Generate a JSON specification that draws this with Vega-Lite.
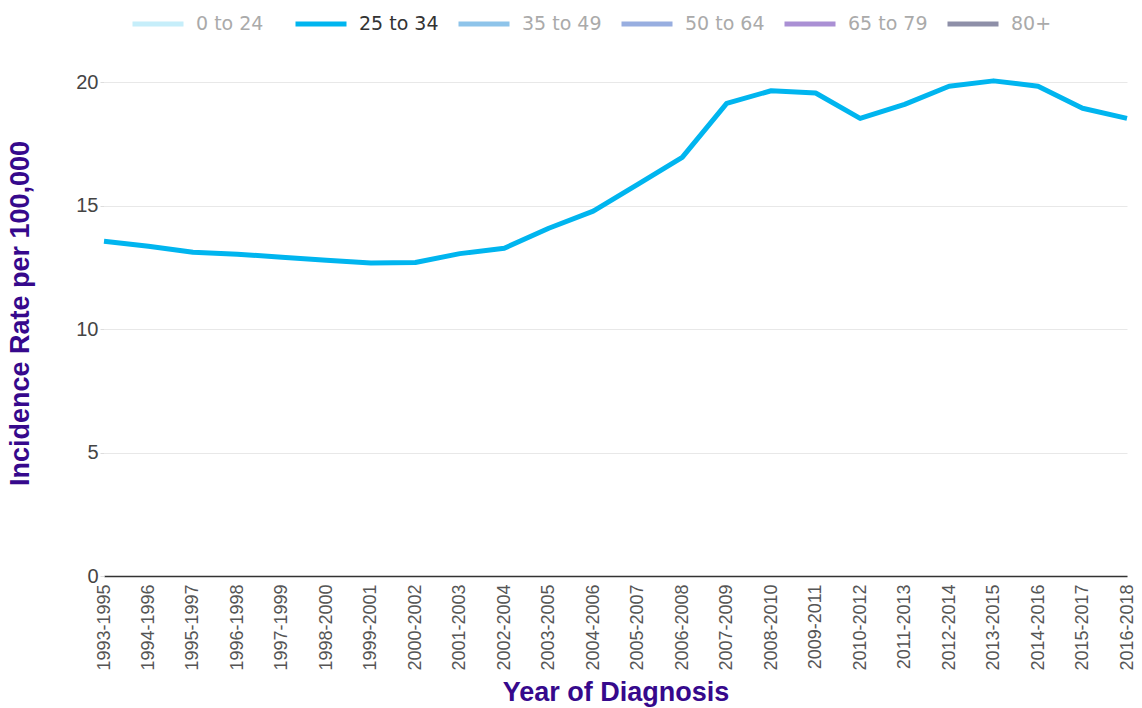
{
  "$schema": "https://vega.github.io/schema/vega-lite/v6.json",
  "width": 1023,
  "height": 506,
  "autosize": "none",
  "padding": {"left": 104, "top": 70, "right": 15, "bottom": 132},
  "background": "white",
  "data": {
    "values": [
      {"period": "1993-1995", "age": "25 to 34", "rate": 13.56},
      {"period": "1994-1996", "age": "25 to 34", "rate": 13.36},
      {"period": "1995-1997", "age": "25 to 34", "rate": 13.12},
      {"period": "1996-1998", "age": "25 to 34", "rate": 13.04},
      {"period": "1997-1999", "age": "25 to 34", "rate": 12.91},
      {"period": "1998-2000", "age": "25 to 34", "rate": 12.79},
      {"period": "1999-2001", "age": "25 to 34", "rate": 12.68},
      {"period": "2000-2002", "age": "25 to 34", "rate": 12.7},
      {"period": "2001-2003", "age": "25 to 34", "rate": 13.06},
      {"period": "2002-2004", "age": "25 to 34", "rate": 13.28},
      {"period": "2003-2005", "age": "25 to 34", "rate": 14.09},
      {"period": "2004-2006", "age": "25 to 34", "rate": 14.78},
      {"period": "2005-2007", "age": "25 to 34", "rate": 15.87},
      {"period": "2006-2008", "age": "25 to 34", "rate": 16.96},
      {"period": "2007-2009", "age": "25 to 34", "rate": 19.15},
      {"period": "2008-2010", "age": "25 to 34", "rate": 19.66},
      {"period": "2009-2011", "age": "25 to 34", "rate": 19.57},
      {"period": "2010-2012", "age": "25 to 34", "rate": 18.54},
      {"period": "2011-2013", "age": "25 to 34", "rate": 19.11},
      {"period": "2012-2014", "age": "25 to 34", "rate": 19.84},
      {"period": "2013-2015", "age": "25 to 34", "rate": 20.06},
      {"period": "2014-2016", "age": "25 to 34", "rate": 19.84},
      {"period": "2015-2017", "age": "25 to 34", "rate": 18.95},
      {"period": "2016-2018", "age": "25 to 34", "rate": 18.54}
    ]
  },
  "mark": {"type": "line", "strokeWidth": 5, "strokeJoin": "round", "strokeCap": "butt"},
  "encoding": {
    "x": {
      "field": "period",
      "type": "ordinal",
      "scale": {"type": "point", "padding": 0},
      "axis": {
        "title": "Year of Diagnosis",
        "titleFont": "Liberation Sans",
        "titleFontSize": 27,
        "titleFontWeight": "bold",
        "titleColor": "#36098c",
        "titlePadding": 9,
        "labelAngle": -90,
        "labelAlign": "right",
        "labelBaseline": "middle",
        "labelFont": "Liberation Sans",
        "labelFontSize": 18,
        "labelColor": "#555555",
        "labelPadding": 8,
        "ticks": false,
        "grid": false,
        "domainColor": "#333333",
        "domainWidth": 1.5
      }
    },
    "y": {
      "field": "rate",
      "type": "quantitative",
      "scale": {"domain": [0, 20.5], "nice": false},
      "axis": {
        "title": "Incidence Rate per 100,000",
        "titleFont": "Liberation Sans",
        "titleFontSize": 27,
        "titleFontWeight": "bold",
        "titleColor": "#36098c",
        "titleX": -70,
        "titleY": 243,
        "titleAlign": "center",
        "titleAngle": -90,
        "titleBaseline": "bottom",
        "values": [0, 5, 10, 15, 20],
        "labelFont": "Liberation Sans",
        "labelFontSize": 20,
        "labelColor": "#444444",
        "labelPadding": 2,
        "tickColor": "#dddddd",
        "tickSize": 4,
        "domain": false,
        "gridColor": "#e8e8e8",
        "gridWidth": 1
      }
    },
    "stroke": {
      "field": "age",
      "type": "nominal",
      "scale": {
        "domain": ["0 to 24", "25 to 34", "35 to 49", "50 to 64", "65 to 79", "80+"],
        "range": ["#c6eefa", "#00b5ef", "#8ec4ea", "#98aee0", "#aa90d4", "#8e8fa8"]
      },
      "legend": {
        "title": null,
        "orient": "none",
        "direction": "horizontal",
        "legendX": 26,
        "legendY": -74,
        "symbolType": "stroke",
        "symbolSize": 2601,
        "symbolStrokeWidth": 5,
        "symbolOffset": 0,
        "labelOffset": 10,
        "labelFont": "DejaVu Sans",
        "labelFontSize": 19,
        "columnPadding": 9,
        "gridAlign": "all",
        "encode": {
          "labels": {
            "update": {
              "fill": {"signal": "datum.value === '25 to 34' ? '#333333' : '#aaaaaa'"}
            }
          }
        }
      }
    }
  },
  "config": {
    "view": {"stroke": null}
  }
}
